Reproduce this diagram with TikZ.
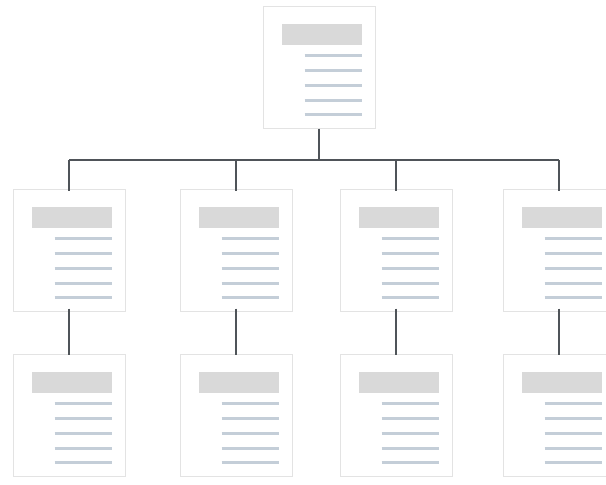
\documentclass[tikz,border=0pt]{standalone}
\usetikzlibrary{positioning}
\definecolor{ink}{HTML}{4F5459}
\definecolor{frame}{HTML}{E3E3E3}
\definecolor{head}{HTML}{D9D9D9}
\definecolor{rule}{HTML}{C4CED8}
\tikzset{
  docbox/.style={draw=frame,line width=1pt,fill=white,minimum width=112pt,minimum height=122pt,inner sep=0pt},
  conn/.style={draw=ink,line width=2pt},
  headbar/.style={fill=head},
  textrule/.style={draw=rule,line width=2.2pt}}
% inner parts of one page icon
\newcommand{\pagebits}[1]{%
  \begin{scope}[shift={(#1.north west)}]
    \fill[headbar] (19,18) rectangle (99,39);
    \foreach \ry in {50,65,80,95,109}{\draw[textrule] (42,\ry)--(99,\ry);}
  \end{scope}}

\begin{document}
\begin{tikzpicture}[x=1pt,y=-1pt]
\useasboundingbox[fill=white] (0,0) rectangle (606,485);
\clip (0,0) rectangle (606,485);
\node[docbox] (top) at (319,67) {};
\pagebits{top}
\foreach \cx [count=\i] in {69,236,396,559}{
  \node[docbox] (m\i) at (\cx,250) {};
  \pagebits{m\i}
  \node[docbox] (b\i) at (\cx,415) {};
  \pagebits{b\i}
}
\coordinate (bus) at (0,160);
\draw[conn] (top.south) -- (top.south |- bus);
\draw[conn] (m1.north |- bus) -- (m4.north |- bus);
\foreach \i in {1,...,4}{
  \draw[conn] (m\i.north |- bus) -- ([yshift=-2pt]m\i.north);
  \draw[conn] ([yshift=3pt]m\i.south) -- ([yshift=-1pt]b\i.north);
}
\end{tikzpicture}
\end{document}
